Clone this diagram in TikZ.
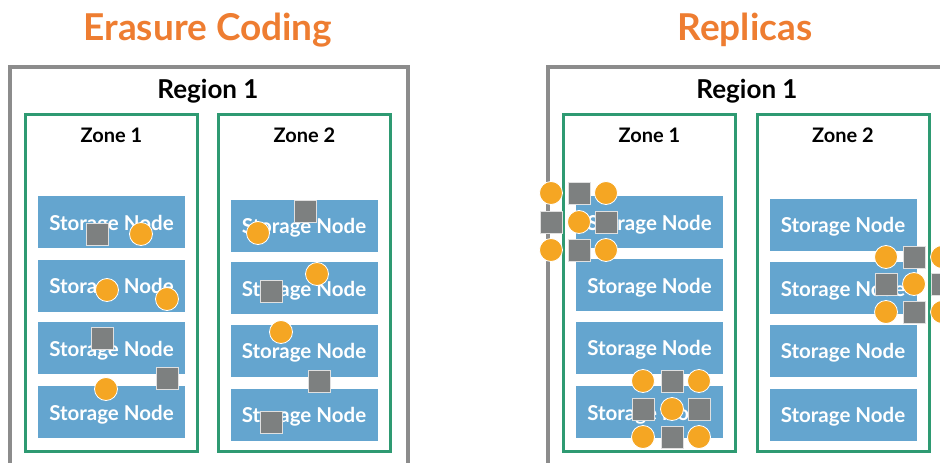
\documentclass[tikz,border=0pt]{standalone}
\usepackage{fontspec}
\setmainfont{Lato}
\usepackage{xcolor}
\usepackage{tikz}
\definecolor{titleorange}{RGB}{238, 125, 49}
\definecolor{regiongray}{RGB}{140, 140, 140}
\definecolor{zonegreen}{RGB}{46, 154, 114}
\definecolor{nodeblue}{RGB}{100, 165, 207}
\definecolor{chunkgray}{RGB}{125, 128, 128}
\definecolor{pieceorange}{RGB}{245, 166, 35}

\begin{document}
\begin{tikzpicture}[
    x=1pt, y=-1pt,
    title/.style={
        font=\fontsize{37}{42}\selectfont\bfseries,
        text=titleorange
    },
    regionlabel/.style={font=\fontsize{26}{30}\selectfont\bfseries},
    zonelabel/.style={font=\fontsize{20}{24}\selectfont\bfseries},
    region/.style={draw=regiongray, line width=4pt},
    zone/.style={
        rectangle,
        draw=zonegreen,
        line width=3pt,
        minimum width=172pt,
        minimum height=337pt,
        inner sep=0pt
    },
    storage/.style={
        rectangle,
        fill=nodeblue,
        minimum width=147pt,
        minimum height=52pt,
        inner sep=0pt,
        text=white,
        text height=18pt,
        text depth=2pt,
        font=\fontsize{20.5}{24}\selectfont\bfseries
    },
    chunk/.style={
        rectangle,
        fill=chunkgray,
        draw=black!12,
        line width=0.8pt,
        minimum size=22pt,
        inner sep=0pt
    },
    piece/.style={
        circle,
        fill=pieceorange,
        draw=white,
        line width=0.8pt,
        minimum size=23pt,
        inner sep=0pt
    }
]
    \useasboundingbox (0,0) rectangle (940,463);
    \clip (0,0) rectangle (940,463);

    % titles
    \node[title] (ectitle) at (208,30) {Erasure Coding};
    \node[title] (reptitle) at (745,30) {Replicas};

    % erasure coding side
    \draw[region] (10,480) |- (408,67) -- (408,480);
    \node[regionlabel] (ecregion) at (208,91) {Region 1};
    \node[zone] (eczone1) at (111.5,283) {};
    \node[zone] (eczone2) at (304.5,283) {};
    \node[zonelabel] (ecz1label) at (111.5,135) {Zone 1};
    \node[zonelabel] (ecz2label) at (304.5,135) {Zone 2};

    \node[storage] (ecs1) at (111.5,222) {Storage Node};
    \node[storage] (ecs2) at (111.5,285.5) {Storage Node};
    \node[storage] (ecs3) at (111.5,348) {Storage Node};
    \node[storage] (ecs4) at (111.5,412) {Storage Node};
    \node[storage] (ecs5) at (304,225.5) {Storage Node};
    \node[storage] (ecs6) at (304,288) {Storage Node};
    \node[storage] (ecs7) at (304,350.5) {Storage Node};
    \node[storage] (ecs8) at (304,414.5) {Storage Node};

    % data and parity fragments
    \node[chunk] (ecc1) at (97,234) {};
    \node[piece] (ecp1) at (141,234) {};
    \node[piece] (ecp2) at (107,290) {};
    \node[piece] (ecp3) at (167,299) {};
    \node[chunk] (ecc2) at (102,338) {};
    \node[chunk] (ecc3) at (167,378) {};
    \node[piece] (ecp4) at (106,389) {};
    \node[chunk] (ecc4) at (305,211) {};
    \node[piece] (ecp5) at (258,233) {};
    \node[piece] (ecp6) at (317,274) {};
    \node[chunk] (ecc5) at (271,291) {};
    \node[piece] (ecp7) at (281,332) {};
    \node[chunk] (ecc6) at (319,381) {};
    \node[chunk] (ecc7) at (271,422) {};

    % replicas side
    \draw[region] (548,480) |- (960,67);
    \node[regionlabel] (repregion) at (747,91) {Region 1};
    \node[zone] (repzone1) at (649.5,283) {};
    \node[zone] (repzone2) at (843,283) {};
    \node[zonelabel] (repz1label) at (649.5,135) {Zone 1};
    \node[zonelabel] (repz2label) at (843,135) {Zone 2};

    \node[storage] (reps1) at (649.5,222) {Storage Node};
    \node[storage] (reps2) at (649.5,285) {Storage Node};
    \node[storage] (reps3) at (649.5,347.5) {Storage Node};
    \node[storage] (reps4) at (649.5,412) {Storage Node};
    \node[storage] (reps5) at (843,224.5) {Storage Node};
    \node[storage] (reps6) at (843,288) {Storage Node};
    \node[storage] (reps7) at (843,350.5) {Storage Node};
    \node[storage] (reps8) at (843,414.5) {Storage Node};

    % replica set 1
    \node[piece] (ra1) at (551,193) {};
    \node[chunk] (ra2) at (579,193) {};
    \node[piece] (ra3) at (606,193) {};
    \node[chunk] (ra4) at (551,222) {};
    \node[piece] (ra5) at (579,222) {};
    \node[chunk] (ra6) at (606,222) {};
    \node[piece] (ra7) at (551,250) {};
    \node[chunk] (ra8) at (579,250) {};
    \node[piece] (ra9) at (606,250) {};

    % replica set 2
    \node[piece] (rb1) at (886,257) {};
    \node[chunk] (rb2) at (914,257) {};
    \node[piece] (rb3) at (942,257) {};
    \node[chunk] (rb4) at (886,284) {};
    \node[piece] (rb5) at (914,284) {};
    \node[chunk] (rb6) at (942,284) {};
    \node[piece] (rb7) at (886,312) {};
    \node[chunk] (rb8) at (914,312) {};
    \node[piece] (rb9) at (942,312) {};

    % replica set 3
    \node[piece] (rc1) at (643,381) {};
    \node[chunk] (rc2) at (672,381) {};
    \node[piece] (rc3) at (699,381) {};
    \node[chunk] (rc4) at (643,409) {};
    \node[piece] (rc5) at (672,409) {};
    \node[chunk] (rc6) at (699,409) {};
    \node[piece] (rc7) at (643,437) {};
    \node[chunk] (rc8) at (672,437) {};
    \node[piece] (rc9) at (699,437) {};
\end{tikzpicture}
\end{document}
